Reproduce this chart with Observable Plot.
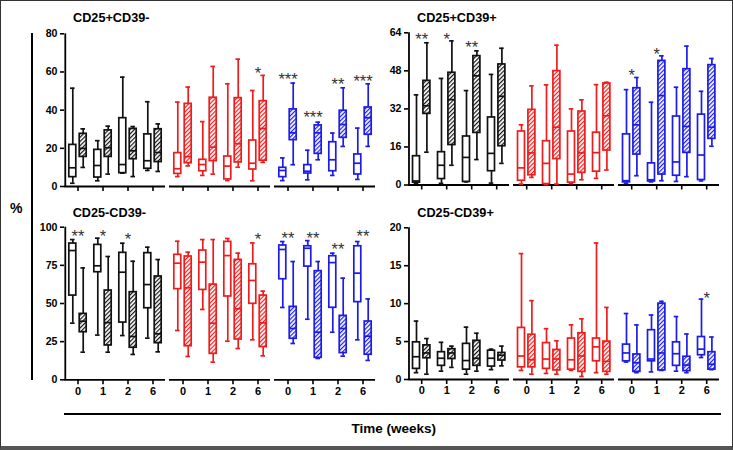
<!DOCTYPE html>
<html>
<head>
<meta charset="utf-8">
<script src="https://cdn.jsdelivr.net/npm/d3@7"></script>
<script src="https://cdn.jsdelivr.net/npm/@observablehq/plot@0.6"></script>
<style>
  html, body { margin: 0; padding: 0; background: #fff; }
  #root { position: relative; width: 733px; height: 450px; overflow: hidden; background: #fff;
          font-family: "Liberation Sans", Arial, sans-serif; color: #000; }
  .abs { position: absolute; }
  .title { font-weight: bold; font-size: 12.7px; line-height: 12.7px; white-space: nowrap; }
  .frame { position: absolute; left: 0; top: 0; right: 0; bottom: 0; box-sizing: border-box;
           border: 1px solid #333; border-bottom: 4px solid #555; pointer-events: none; }
</style>
</head>
<body>
<svg width="0" height="0" style="position:absolute">
  <defs>
    <pattern id="hatch-black" patternUnits="userSpaceOnUse" width="3" height="3" patternTransform="rotate(45)">
      <rect width="3" height="3" fill="#fff"/><rect width="1.2" height="3" fill="#111"/>
    </pattern>
    <pattern id="hatch-red" patternUnits="userSpaceOnUse" width="3" height="3" patternTransform="rotate(45)">
      <rect width="3" height="3" fill="#fff"/><rect width="1.2" height="3" fill="#ee1c1c"/>
    </pattern>
    <pattern id="hatch-blue" patternUnits="userSpaceOnUse" width="3" height="3" patternTransform="rotate(45)">
      <rect width="3" height="3" fill="#fff"/><rect width="1.2" height="3" fill="#1c1ce6"/>
    </pattern>
  </defs>
</svg>
<div id="root"></div>
<script>
// ---------- data ----------
const groups = ["black", "red", "blue"];
const weeks = ["0", "1", "2", "6"];
const boxKinds = ["open", "hatched"];

// rows: group (black, red, blue) x week (0,1,2,6) x kind (open, hatched): [min, q1, median, q3, max]
const cd25posCd39neg = [
  [1.7, 4.9, 9.8, 21.8, 51.5], [10, 15.5, 20, 27.6, 30.2],
  [3, 4.7, 11, 19.2, 24], [6.5, 15.5, 20.3, 29.4, 31.6],
  [7, 7, 11.5, 35.8, 57.3], [5.2, 14.3, 18.7, 30.2, 31.4],
  [8.4, 9.3, 13.5, 27.3, 44.4], [7.9, 12.8, 17.8, 30, 32.8],
  [5.2, 6.6, 9.3, 17.5, 44.2], [10.8, 12.2, 15.7, 43.3, 52.1],
  [5.8, 8, 11.5, 14, 34], [6.5, 13.3, 20.6, 46.5, 62.9],
  [3.1, 3.7, 10.7, 15.7, 53.8], [10.1, 12.6, 22.4, 46.3, 66.7],
  [3, 8.9, 12.2, 24.1, 50.3], [12.6, 13.5, 30.4, 44.7, 58.2],
  [3.1, 4.9, 8.4, 9.8, 15], [11.4, 24.3, 28.1, 40.4, 54.2],
  [3.5, 6.8, 8, 11.2, 19], [14, 17.1, 28.1, 32, 33.7],
  [5.8, 8, 14, 23.2, 28], [21, 25.5, 32.5, 39.7, 51.7],
  [3.7, 6.3, 12.2, 16.8, 30.6], [21, 27.1, 36, 41.4, 53.8]
];
const cd25posCd39pos = [
  [0.7, 1, 1.7, 12.1, 37.9], [13.8, 29.9, 33.3, 43.8, 59.8],
  [0.7, 2.5, 8.3, 13.8, 44.8], [8.3, 16.8, 35.9, 47.2, 60.6],
  [1.3, 1.3, 11.6, 20.4, 39.7], [10.7, 21.9, 45.9, 54.2, 56.4],
  [0.8, 5.8, 13.3, 28.4, 46.5], [9.1, 16.3, 37.3, 50.7, 57.5],
  [0.4, 1.8, 7.2, 22.5, 25.3], [3.2, 4.1, 13.5, 31.6, 41.7],
  [0.1, 0.4, 9.1, 18.4, 42.1], [0.4, 10.9, 24.3, 47.9, 58.8],
  [0.6, 1, 4.6, 22.5, 32], [2.2, 5.1, 13.5, 30.9, 35.8],
  [2.8, 5.6, 13.6, 22, 42.2], [6.3, 14.5, 29.1, 42.7, 43.2],
  [0.7, 1.1, 1.8, 21.3, 40.1], [3.9, 12.8, 25.3, 40.7, 45.2],
  [1.3, 1.5, 2.2, 9.1, 34.8], [1.8, 4.4, 37.6, 52.2, 54.3],
  [1.5, 3.9, 9.7, 28.8, 41.1], [3.5, 13.5, 24.6, 48.7, 58.4],
  [1.7, 2.1, 12.6, 29.6, 39.4], [16.3, 19.4, 24.3, 50.4, 53.2]
];
const cd25negCd39neg = [
  [37.1, 55.2, 84.7, 89.3, 91.9], [18.1, 31.2, 38.4, 43.2, 73.3],
  [29.3, 70.5, 74.7, 88.4, 92.8], [18.1, 22.5, 37.5, 58.5, 80.8],
  [29, 37.5, 70.5, 83.2, 89.5], [16.6, 21, 28.4, 57.4, 77.7],
  [27.3, 46.9, 62.4, 83, 86.9], [18.3, 24, 30.1, 67.7, 78.8],
  [32.3, 59.4, 76.4, 81.9, 90.8], [15.3, 22, 60.3, 80.8, 83.6],
  [46.1, 58.9, 77.1, 84.7, 91.9], [11.6, 17, 37.1, 62.4, 91.9],
  [25.3, 54.6, 81.4, 90.4, 92.6], [20.5, 26.4, 46.5, 78.6, 83],
  [26.2, 49.8, 65.1, 75.7, 89.7], [15.7, 21.4, 37.3, 55.2, 58.1],
  [47.4, 65.9, 85.4, 88, 90.6], [23.8, 26.9, 33.6, 47.8, 77.5],
  [39.7, 74.2, 86.2, 87.5, 91.2], [14, 14.4, 31.2, 71.2, 77.5],
  [31.2, 47.2, 76.8, 81, 83], [15.5, 17.5, 33.6, 41.9, 66.6],
  [26.2, 50.9, 69.9, 87.5, 90.6], [12.7, 16.4, 28.6, 38.2, 53]
];
const cd25negCd39pos = [
  [0.9, 1.4, 3, 4.9, 7.7], [0.7, 2.8, 3.5, 4.5, 5.4],
  [1.1, 1.8, 2.8, 3.6, 4.9], [1.6, 2.7, 3.5, 4, 4.4],
  [0.7, 1.3, 2.5, 4.7, 6.9], [1.1, 1.8, 2.8, 5.1, 6.1],
  [1.3, 1.7, 2.8, 3.8, 4], [1.8, 2.5, 3.2, 3.5, 4.4],
  [1.2, 1.6, 3.1, 6.8, 16.6], [0.7, 1.6, 2.6, 5.9, 10.4],
  [0.8, 1.4, 2.7, 4.8, 6.7], [0.7, 1.2, 2.7, 3.9, 5.1],
  [1.2, 1.3, 2.6, 5.4, 7.2], [0.4, 1, 3.1, 6.1, 8],
  [0.9, 2.4, 4.3, 5.4, 18], [0.7, 1, 2.4, 5, 9.5],
  [2.3, 2.4, 3.5, 4.6, 8.7], [0.9, 1, 2.2, 3.3, 7.2],
  [1, 2.4, 2.7, 6.5, 8.5], [1.2, 1.2, 3.5, 10, 10.3],
  [1.1, 1.8, 3.4, 4.9, 8.3], [0.9, 1.1, 1.9, 3, 6],
  [2.9, 3.2, 4, 5.6, 10.6], [1.3, 1.3, 2, 3.6, 5.6]
];

// significance marks: [group, week, label, y]
const starsCd25posCd39neg = [["red", "6", "*", 61.7], ["blue", "0", "***", 58.2], ["blue", "1", "***", 38.4], ["blue", "2", "**", 55.6], ["blue", "6", "***", 57]];
const starsCd25posCd39pos = [["black", "0", "**", 62.9], ["black", "1", "*", 62.9], ["black", "2", "**", 59.6], ["blue", "0", "*", 47.9], ["blue", "1", "*", 56.8]];
const starsCd25negCd39neg = [["black", "0", "**", 96.7], ["black", "1", "*", 96.7], ["black", "2", "*", 94.5], ["red", "6", "*", 95], ["blue", "0", "**", 95.6], ["blue", "1", "**", 95.6], ["blue", "2", "**", 88], ["blue", "6", "**", 96.7]];
const starsCd25negCd39pos = [["blue", "6", "*", 11.3]];

const ticksCd25posCd39neg = [0, 20, 40, 60, 80];
const ticksCd25posCd39pos = [0, 16, 32, 48, 64];
const ticksCd25negCd39neg = [0, 25, 50, 75, 100];
const ticksCd25negCd39pos = [0, 5, 10, 15, 20];

// ---------- style ----------
const groupColors = {black: "#111111", red: "#ee1c1c", blue: "#1c1ce6"};
const FONT = "'Liberation Sans', Arial, sans-serif";

function toRows(stats) {
  return stats.map(([min, q1, med, q3, max], i) => ({
    group: groups[Math.floor(i / 8)], week: weeks[Math.floor(i / 2) % 4], kind: boxKinds[i % 2],
    min, q1, med, q3, max
  }));
}

function panel({stats, stars, ticks, labels, left, top, width, height, ml, mr, mt, mb}) {
  const data = toRows(stats);
  const starRows = stars.map(([group, week, label, y]) => ({group, week, label, y}));
  const yMax = ticks[ticks.length - 1];
  const pad = 0.035;
  const plotW = width - ml - mr;
  const bw = plotW / (3 - pad) * (1 - pad) / 4;
  const off = 5.2, boxW = 7.4, capW = 5, sw = 1.7;
  const color = r => groupColors[r.group];
  const marks = [
    Plot.ruleY([0], {stroke: "#000", strokeWidth: 1.8}),
    Plot.ruleX([groups[0]], {fx: d => d, x: () => weeks[0], dx: -bw / 2, stroke: "#000", strokeWidth: 1.8})
  ];
  boxKinds.forEach((kind, k) => {
    const s = k === 0 ? -1 : 1;
    const d = data.filter(r => r.kind === kind);
    const boxIn = {insetLeft: bw / 2 + s * off - boxW / 2, insetRight: bw / 2 - s * off - boxW / 2};
    const capIn = {insetLeft: bw / 2 + s * off - capW / 2, insetRight: bw / 2 - s * off - capW / 2};
    marks.push(
      Plot.ruleX(d, {fx: "group", x: "week", y1: "min", y2: "max", dx: s * off, stroke: color, strokeWidth: sw}),
      Plot.barY(d, {fx: "group", x: "week", y1: "q1", y2: "q3", ...boxIn,
        fill: kind === "open" ? "#fff" : r => `url(#hatch-${r.group})`, stroke: color, strokeWidth: sw}),
      Plot.tickY(d, {fx: "group", x: "week", y: "med", ...boxIn, stroke: color, strokeWidth: sw}),
      Plot.tickY(d, {fx: "group", x: "week", y: "min", ...capIn, stroke: color, strokeWidth: sw}),
      Plot.tickY(d, {fx: "group", x: "week", y: "max", ...capIn, stroke: color, strokeWidth: sw})
    );
  });
  marks.push(
    Plot.axisY({ticks, tickSize: 4, tickPadding: 3, strokeWidth: 1.6, fontSize: 10.6, fontWeight: "bold", label: null}),
    Plot.axisX({tickSize: 5, tickPadding: 2, strokeWidth: 1.6, fontSize: 11, fontWeight: "bold", label: null,
      tickFormat: labels ? d => d : () => ""}),
    Plot.text(starRows, {fx: "group", x: "week", y: "y", text: "label", fontSize: 16.5, fontWeight: "normal", fill: "#333", dy: 4.5})
  );
  const svg = Plot.plot({
    width, height, marginLeft: ml, marginRight: mr, marginTop: mt, marginBottom: mb,
    fx: {domain: groups, paddingInner: pad, paddingOuter: 0, axis: null, label: null},
    x: {domain: weeks, padding: 0},
    y: {domain: [0, yMax]},
    color: {type: "identity"},
    style: {fontFamily: FONT, background: "transparent", overflow: "visible", color: "#000"},
    marks
  });
  svg.style.position = "absolute";
  svg.style.left = left + "px";
  svg.style.top = top + "px";
  return svg;
}

const root = document.getElementById("root");
root.append(
  panel({stats: cd25posCd39neg, stars: starsCd25posCd39neg, ticks: ticksCd25posCd39neg, labels: false,
    left: 30, top: 20, width: 352, height: 186, ml: 33, mr: 6.5, mt: 13.3, mb: 20}),
  panel({stats: cd25posCd39pos, stars: starsCd25posCd39pos, ticks: ticksCd25posCd39pos, labels: false,
    left: 375, top: 20, width: 351, height: 184.5, ml: 32.3, mr: 6.2, mt: 12.3, mb: 20}),
  panel({stats: cd25negCd39neg, stars: starsCd25negCd39neg, ticks: ticksCd25negCd39neg, labels: true,
    left: 30, top: 215, width: 352, height: 189.3, ml: 33, mr: 6.5, mt: 11.7, mb: 25}),
  panel({stats: cd25negCd39pos, stars: starsCd25negCd39pos, ticks: ticksCd25negCd39pos, labels: true,
    left: 375, top: 215, width: 351, height: 189, ml: 32.3, mr: 6.2, mt: 12.3, mb: 25})
);

function addDiv(cls, text, css) {
  const el = document.createElement("div");
  el.className = cls;
  if (text) el.textContent = text;
  Object.assign(el.style, css);
  root.append(el);
  return el;
}
addDiv("abs title", "CD25+CD39-", {left: "73px", top: "12px"});
addDiv("abs title", "CD25+CD39+", {left: "417px", top: "12px"});
addDiv("abs title", "CD25-CD39-", {left: "72.7px", top: "206.5px"});
addDiv("abs title", "CD25-CD39+", {left: "417.3px", top: "206.5px"});
addDiv("abs", "%", {left: "10px", top: "201px", fontWeight: "bold", fontSize: "14px", lineHeight: "14px"});
addDiv("abs", "Time (weeks)", {left: "393.7px", top: "422px", transform: "translateX(-50%)", fontWeight: "bold", fontSize: "13.5px", lineHeight: "13.5px", whiteSpace: "nowrap"});
addDiv("abs", "", {left: "30.7px", top: "33px", width: "2px", height: "347px", background: "#000"});
addDiv("abs", "", {left: "64px", top: "413.3px", width: "657px", height: "2px", background: "#000"});
addDiv("frame", "", {});
</script>
</body>
</html>
